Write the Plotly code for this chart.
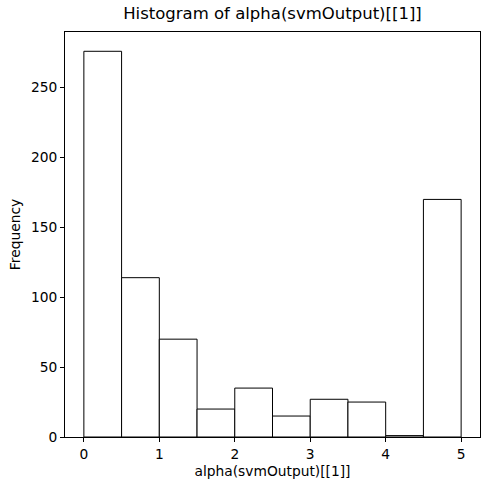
import plotly.graph_objects as go

bin_edges = [0, 0.5, 1, 1.5, 2, 2.5, 3, 3.5, 4, 4.5, 5]
counts = [276, 114, 70, 20, 35, 15, 27, 25, 1, 170]
x_ticks = [0, 1, 2, 3, 4, 5]
y_ticks = [0, 50, 100, 150, 200, 250]

centers = [(a + b) / 2 for a, b in zip(bin_edges[:-1], bin_edges[1:])]
widths = [b - a for a, b in zip(bin_edges[:-1], bin_edges[1:])]

fig = go.Figure(go.Bar(
    x=centers, y=counts, width=widths,
    marker=dict(color="white", line=dict(color="black", width=1)),
    hoverinfo="x+y",
))

font = "DejaVu Sans"
fig.update_layout(
    width=490, height=490,
    margin=dict(l=65, r=10, t=32, b=53),
    paper_bgcolor="white", plot_bgcolor="white",
    showlegend=False,
    title=dict(text="Histogram of alpha(svmOutput)[[1]]", x=0.5, xref="paper",
               y=1, yref="container", yanchor="top", pad=dict(t=7),
               font=dict(family=font, size=16.5, color="black")),
    font=dict(family=font, size=13.5, color="black"),
)
fig.update_xaxes(
    range=[-0.25, 5.25], tickvals=x_ticks, ticks="outside", ticklen=4,
    tickcolor="black", showgrid=False, zeroline=False,
    showline=True, linecolor="black", linewidth=1, mirror=True,
    title=dict(text="alpha(svmOutput)[[1]]", font=dict(size=13.8), standoff=5),
    tickfont=dict(size=13.8),
)
fig.update_yaxes(
    range=[0, 289.8], tickvals=y_ticks, ticks="outside", ticklen=4,
    tickcolor="black", showgrid=False, zeroline=False,
    showline=True, linecolor="black", linewidth=1, mirror=True,
    title=dict(text="Frequency", font=dict(size=13.8), standoff=7),
    tickfont=dict(size=13.8),
)

fig.write_html("out.html")
